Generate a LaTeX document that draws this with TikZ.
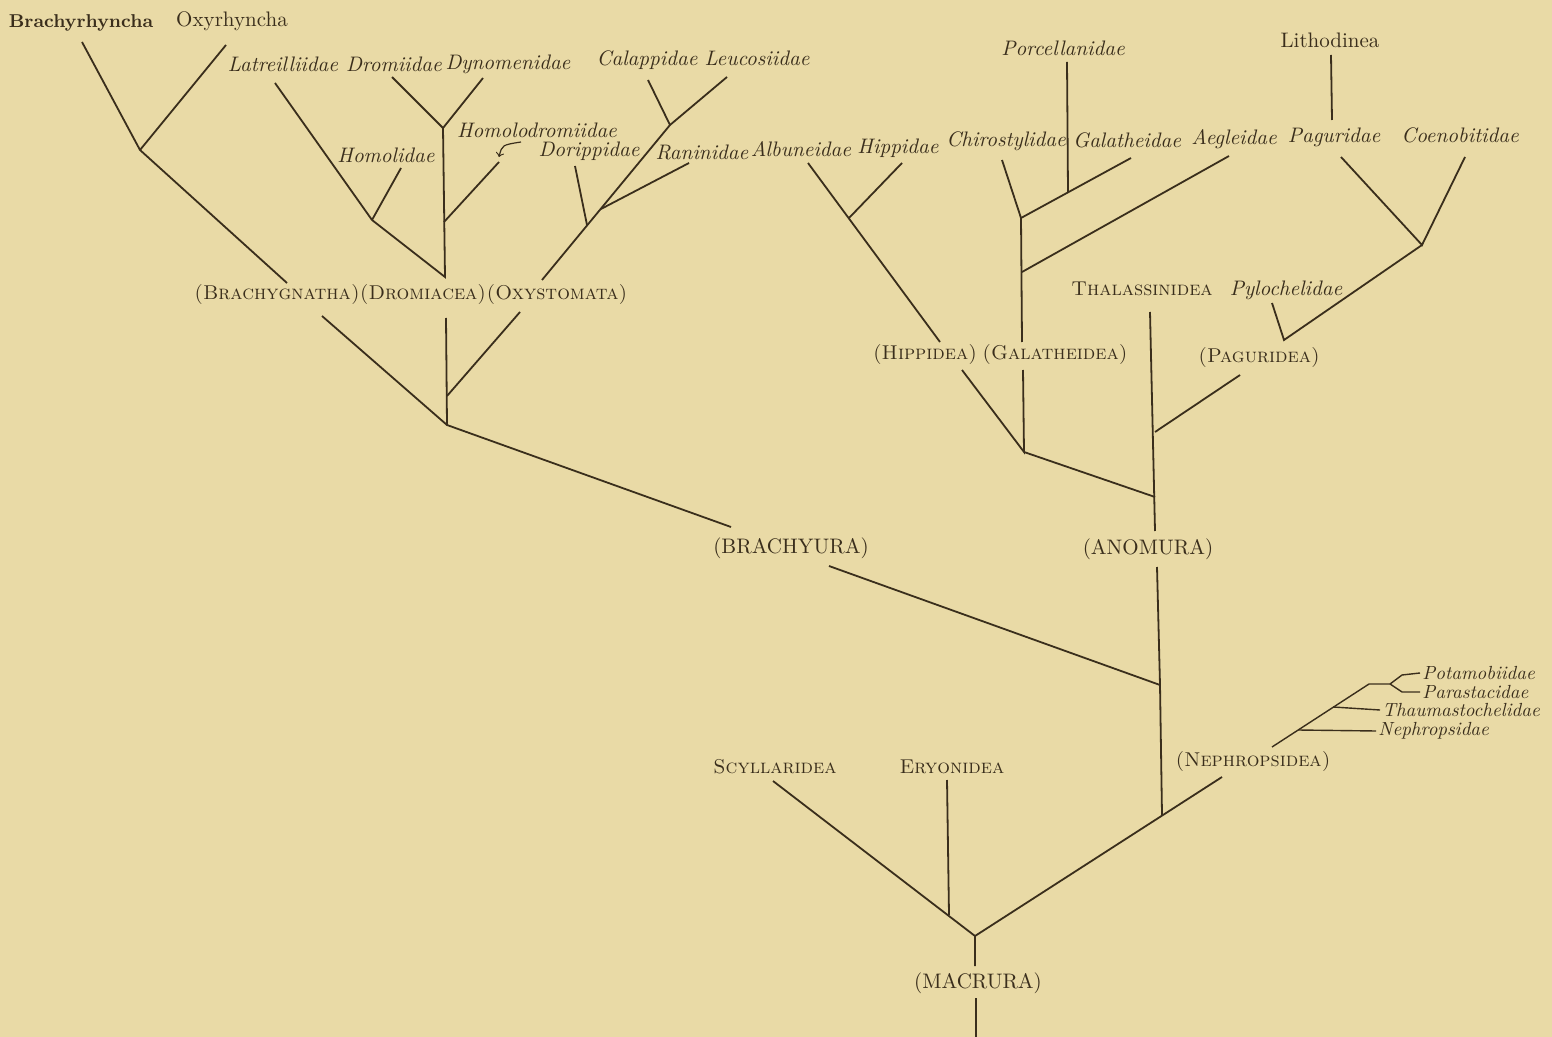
\documentclass[tikz,border=0pt]{standalone}
\usepackage{fontspec}
\definecolor{paper}{HTML}{E9DAA6}
\definecolor{ink}{HTML}{3A2E1C}

\begin{document}
\begin{tikzpicture}[x=0.5pt, y=-0.5pt,
    every node/.style={text=ink, inner sep=1pt},
    fam/.style={font=\fontsize{10.5}{12}\selectfont\itshape},
    subfam/.style={font=\fontsize{9.5}{11}\selectfont\itshape, anchor=west},
    grp/.style={font=\fontsize{10}{12}\selectfont\scshape, inner sep=0pt},
    ord/.style={font=\fontsize{10.5}{12}\selectfont\addfontfeatures{LetterSpace=4}},
    br/.style={draw=ink, line width=0.9pt},
    twig/.style={draw=ink, line width=0.7pt}]
\fill[paper] (0,0) rectangle (1552,1037);
\useasboundingbox (0,0) rectangle (1552,1037);

% top row of names
\node[font=\fontsize{9.3}{12}\selectfont\bfseries] (brh) at (81,23) {Brachyrhyncha};
\node[font=\fontsize{10.5}{12}\selectfont] (oxr) at (232,21) {Oxyrhyncha};
\node[fam] (lat) at (283,64) {Latreilliidae};
\node[fam] (dro) at (394,64) {Dromiidae};
\node[fam] (dyn) at (508,64) {Dynomenidae};
\node[fam] (hml) at (386,155) {Homolidae};
\node[fam] (hmd) at (537,130) {Homolodromiidae};
\node[fam] (cal) at (647,60) {Calappidae};
\node[fam] (leu) at (757,58) {Leucosiidae};
\node[fam] (dor) at (589,151) {Dorippidae};
\node[fam] (ran) at (702,152) {Raninidae};
\node[fam] (alb) at (801,149) {Albuneidae};
\node[fam] (hip) at (898,148) {Hippidae};
\node[fam] (chi) at (1006,141) {Chirostylidae};
\node[fam] (gal) at (1127,140) {Galatheidae};
\node[fam] (aeg) at (1234,139) {Aegleidae};
\node[fam] (pag) at (1334,137) {Paguridae};
\node[fam] (coe) at (1460,135) {Coenobitidae};
\node[fam] (por) at (1063,48) {Porcellanidae};
\node[font=\fontsize{10.5}{12}\selectfont] (lit) at (1330,40) {Lithodinea};
\node[grp] (tha) at (1142,289) {Thalassinidea};
\node[fam] (pyl) at (1286,290) {Pylochelidae};

% groups
\node[grp] (brg) at (277,295) {(Brachygnatha)};
\node[grp] (drm) at (423,295) {(Dromiacea)};
\node[grp] (oxs) at (557,295) {(Oxystomata)};
\node[grp] (hpd) at (925,355) {(Hippidea)};
\node[grp] (gld) at (1055,355) {(Galatheidea)};
\node[grp] (pgd) at (1259,358) {(Paguridea)};
\node[ord] (bry) at (791,548) {(BRACHYURA)};
\node[ord] (ano) at (1148,549) {(ANOMURA)};
\node[grp] (nph) at (1253,761) {(Nephropsidea)};
\node[grp] (scy) at (775,767) {Scyllaridea};
\node[grp] (ery) at (952,767) {Eryonidea};
\node[ord] (mac) at (978,983) {(MACRURA)};

% lobster families
\node[subfam] (pot) at (1420,673) {Potamobiidae};
\node[subfam] (par) at (1420,692) {Parastacidae};
\node[subfam] (tmc) at (1380,710) {Thaumastochelidae};
\node[subfam] (nep) at (1376,731) {Nephropsidae};

% Brachygnatha
\coordinate (brh-t) at (82,42);
\coordinate (oxr-t) at (226,45);
\coordinate (j1) at (140,150);
\coordinate (brg-t) at (287,283);
\draw[br] (brh-t) -- (j1) -- (brg-t);
\draw[br] (oxr-t) -- (j1);

% Dromiacea
\coordinate (lat-t) at (275,83);
\coordinate (hml-t) at (401,168);
\coordinate (j3) at (372,220);
\coordinate (dro-t) at (392,77);
\coordinate (dyn-t) at (483,78);
\coordinate (j4) at (443,128);
\coordinate (hmd-t) at (499,162);
\coordinate (j5) at (444,222);
\coordinate (drm-t) at (445,277);
\draw[br] (lat-t) -- (j3) -- (drm-t) -- (j4);
\draw[br] (hml-t) -- (j3);
\draw[br] (dro-t) -- (j4) -- (dyn-t);
\draw[br] (hmd-t) -- (j5);
\coordinate (hmd-a) at (521,142);
\coordinate (hmd-b) at (499,157);
\draw[->, ink, line width=0.6pt] (hmd-a) .. controls (502,145) .. (hmd-b);

% Oxystomata
\coordinate (cal-t) at (648,80);
\coordinate (leu-t) at (727,77);
\coordinate (j6) at (670,125);
\coordinate (ran-t) at (689,163);
\coordinate (j7) at (601,209);
\coordinate (dor-t) at (575,166);
\coordinate (j8) at (587,225);
\coordinate (oxs-t) at (542,280);
\draw[br] (leu-t) -- (j6) -- (oxs-t);
\draw[br] (cal-t) -- (j6);
\draw[br] (ran-t) -- (j7);
\draw[br] (dor-t) -- (j8);

% Brachyura
\coordinate (brg-b) at (322,316);
\coordinate (drm-b) at (446,318);
\coordinate (oxs-b) at (520,312);
\coordinate (j2) at (447,425);
\coordinate (j9) at (447,396);
\coordinate (bry-t) at (731,527);
\coordinate (bry-b) at (829,566);
\coordinate (j10) at (1160,685);
\draw[br] (brg-b) -- (j2) -- (bry-t);
\draw[br] (drm-b) -- (j2);
\draw[br] (oxs-b) -- (j9);
\draw[br] (bry-b) -- (j10);

% Hippidea, Galatheidea
\coordinate (alb-t) at (808,163);
\coordinate (hip-t) at (902,163);
\coordinate (j11) at (849,218);
\coordinate (hpd-t) at (940,342);
\coordinate (chi-t) at (1002,160);
\coordinate (gal-t) at (1131,158);
\coordinate (j12) at (1021,218);
\coordinate (por-t) at (1067,62);
\coordinate (j13) at (1068,192);
\coordinate (aeg-t) at (1229,156);
\coordinate (j14) at (1022,272);
\coordinate (gld-t) at (1022,342);
\draw[br] (alb-t) -- (hpd-t);
\draw[br] (hip-t) -- (j11);
\draw[br] (chi-t) -- (j12) -- (gld-t);
\draw[br] (gal-t) -- (j12);
\draw[br] (por-t) -- (j13);
\draw[br] (aeg-t) -- (j14);

% Paguridea
\coordinate (pag-t) at (1341,157);
\coordinate (coe-t) at (1465,157);
\coordinate (j16) at (1422,245);
\coordinate (pyl-t) at (1272,303);
\coordinate (j17) at (1284,340);
\coordinate (lit-t) at (1331,55);
\coordinate (lit-b) at (1332,120);
\draw[br] (pag-t) -- (j16) -- (coe-t);
\draw[br] (j16) -- (j17) -- (pyl-t);
\draw[br] (lit-t) -- (lit-b);

% Anomura
\coordinate (hpd-b) at (962,370);
\coordinate (gld-b) at (1023,370);
\coordinate (j15) at (1024,452);
\coordinate (pgd-b) at (1240,375);
\coordinate (j18) at (1155,432);
\coordinate (tha-t) at (1150,312);
\coordinate (j19) at (1155,497);
\coordinate (ano-t) at (1155,531);
\coordinate (ano-b) at (1157,567);
\draw[br] (hpd-b) -- (j15) -- (gld-b);
\draw[br] (j15) -- (j19);
\draw[br] (pgd-b) -- (j18);
\draw[br] (tha-t) -- (ano-t);

% Macrura
\coordinate (j20) at (1162,815);
\coordinate (nph-t) at (1222,777);
\coordinate (j22) at (975,936);
\coordinate (scy-t) at (773,781);
\coordinate (ery-t) at (947,780);
\coordinate (j21) at (949,915);
\coordinate (mac-t) at (975,966);
\coordinate (mac-b) at (976,998);
\coordinate (root) at (976,1037);
\draw[br] (ano-b) -- (j10) -- (j20);
\draw[br] (nph-t) -- (j22) -- (mac-t);
\draw[br] (scy-t) -- (j22);
\draw[br] (ery-t) -- (j21);
\draw[br] (mac-b) -- (root);

% Nephropsidea
\coordinate (ne1) at (1272,747);
\coordinate (ne2) at (1369,684);
\coordinate (ne3) at (1390,684);
\coordinate (pot-t) at (1402,675);
\coordinate (par-t) at (1402,692);
\coordinate (tmc-j) at (1333,707);
\coordinate (nep-j) at (1298,730);
\draw[twig] (ne1) -- (ne2) -- (ne3) -- (pot-t) -- (pot.west);
\draw[twig] (ne3) -- (par-t) -- (par.west);
\draw[twig] (tmc-j) -- (tmc.west);
\draw[twig] (nep-j) -- (nep.west);
\end{tikzpicture}
\end{document}
